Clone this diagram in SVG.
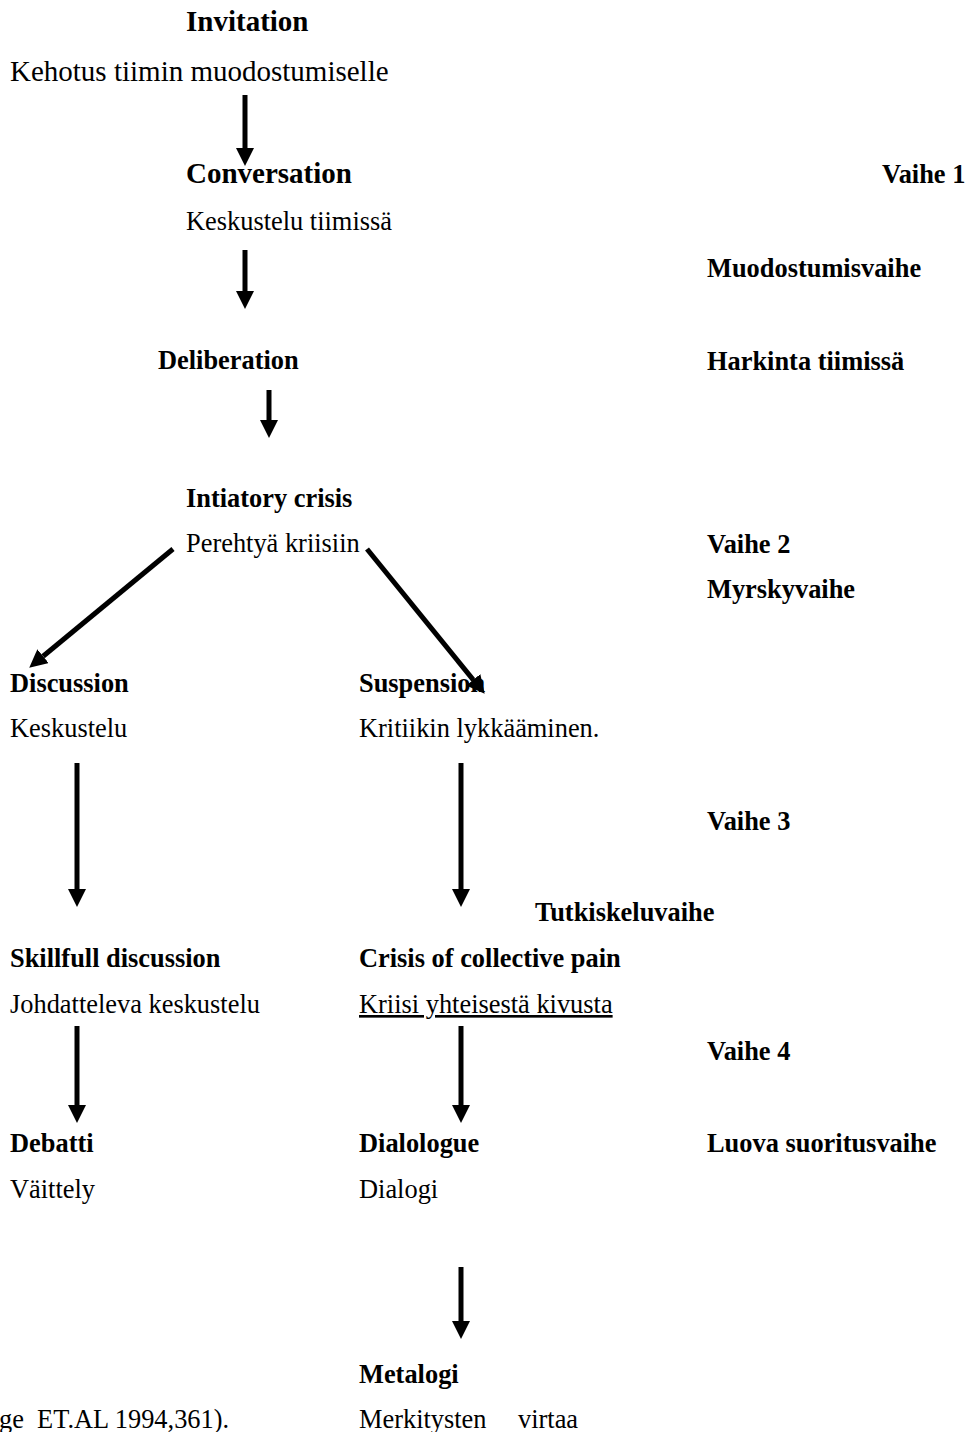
<svg xmlns="http://www.w3.org/2000/svg" width="969" height="1432" viewBox="0 0 969 1432">
<style>
text { font-family: "Liberation Serif", "Times New Roman", serif; fill: #000; font-size: 26.4px; }
.b { font-weight: bold; }
.big { font-size: 29px; }
.u { text-decoration: underline; text-decoration-skip-ink: none; }
.arr line { stroke: #000; stroke-width: 5; marker-end: url(#ah); }
</style>
<defs>
<marker id="ah" markerUnits="userSpaceOnUse" markerWidth="18" markerHeight="18" refX="0" refY="9" orient="auto" viewBox="0 0 18 18">
<path d="M0,0 L18,9 L0,18 z" fill="#000"/>
</marker>
</defs>
<rect width="969" height="1432" fill="#fff"/>
<g id="invitation">
<text class="b big" x="186" y="31">Invitation</text>
<text class="big" x="10" y="81">Kehotus tiimin muodostumiselle</text>
</g>
<g id="conversation">
<text class="b big" x="186" y="183">Conversation</text>
<text x="186" y="230">Keskustelu tiimissä</text>
</g>
<g id="deliberation">
<text class="b" x="158" y="369">Deliberation</text>
</g>
<g id="initiatory-crisis">
<text class="b" x="186" y="507">Intiatory crisis</text>
<text x="186" y="552">Perehtyä kriisiin</text>
</g>
<g id="discussion">
<text class="b" x="10" y="692">Discussion</text>
<text x="10" y="737">Keskustelu</text>
</g>
<g id="suspension">
<text class="b" x="359" y="692">Suspension</text>
<text x="359" y="737">Kritiikin lykkääminen.</text>
</g>
<g id="skillful-discussion">
<text class="b" x="10" y="967">Skillfull discussion</text>
<text x="10" y="1013">Johdatteleva keskustelu</text>
</g>
<g id="crisis-collective-pain">
<text class="b" x="359" y="967">Crisis of collective pain</text>
<text class="u" x="359" y="1013">Kriisi yhteisestä kivusta</text>
</g>
<g id="debatti">
<text class="b" x="10" y="1152">Debatti</text>
<text x="10" y="1198">Väittely</text>
</g>
<g id="dialologue">
<text class="b" x="359" y="1152">Dialologue</text>
<text x="359" y="1198">Dialogi</text>
</g>
<g id="metalogi">
<text class="b" x="359" y="1383">Metalogi</text>
<text x="359" y="1428">Merkitysten <tspan x="518">virtaa</tspan></text>
</g>
<g id="stage1">
<text class="b" x="882" y="183">Vaihe 1</text>
<text class="b" x="707" y="277">Muodostumisvaihe</text>
<text class="b" x="707" y="370">Harkinta tiimissä</text>
</g>
<g id="stage2">
<text class="b" x="707" y="553">Vaihe 2</text>
<text class="b" x="707" y="598">Myrskyvaihe</text>
</g>
<g id="stage3">
<text class="b" x="707" y="830">Vaihe 3</text>
<text class="b" x="535" y="921">Tutkiskeluvaihe</text>
</g>
<g id="stage4">
<text class="b" x="707" y="1060">Vaihe 4</text>
<text class="b" x="707" y="1152">Luova suoritusvaihe</text>
</g>
<g id="citation">
<text x="-1" y="1428" xml:space="preserve">ge  ET.AL 1994,361).</text>
</g>
<g id="connectors" class="arr">
<line x1="245" y1="95" x2="245" y2="148"/>
<line x1="245" y1="250" x2="245" y2="291"/>
<line x1="269" y1="390" x2="269" y2="420"/>
<line x1="173" y1="549" x2="43.1" y2="656.2"/>
<line x1="367" y1="549" x2="473.3" y2="679.8"/>
<line x1="77" y1="763" x2="77" y2="889"/>
<line x1="461" y1="763" x2="461" y2="889"/>
<line x1="77" y1="1026" x2="77" y2="1105"/>
<line x1="461" y1="1026" x2="461" y2="1105"/>
<line x1="461" y1="1267" x2="461" y2="1321"/>
</g>
</svg>
